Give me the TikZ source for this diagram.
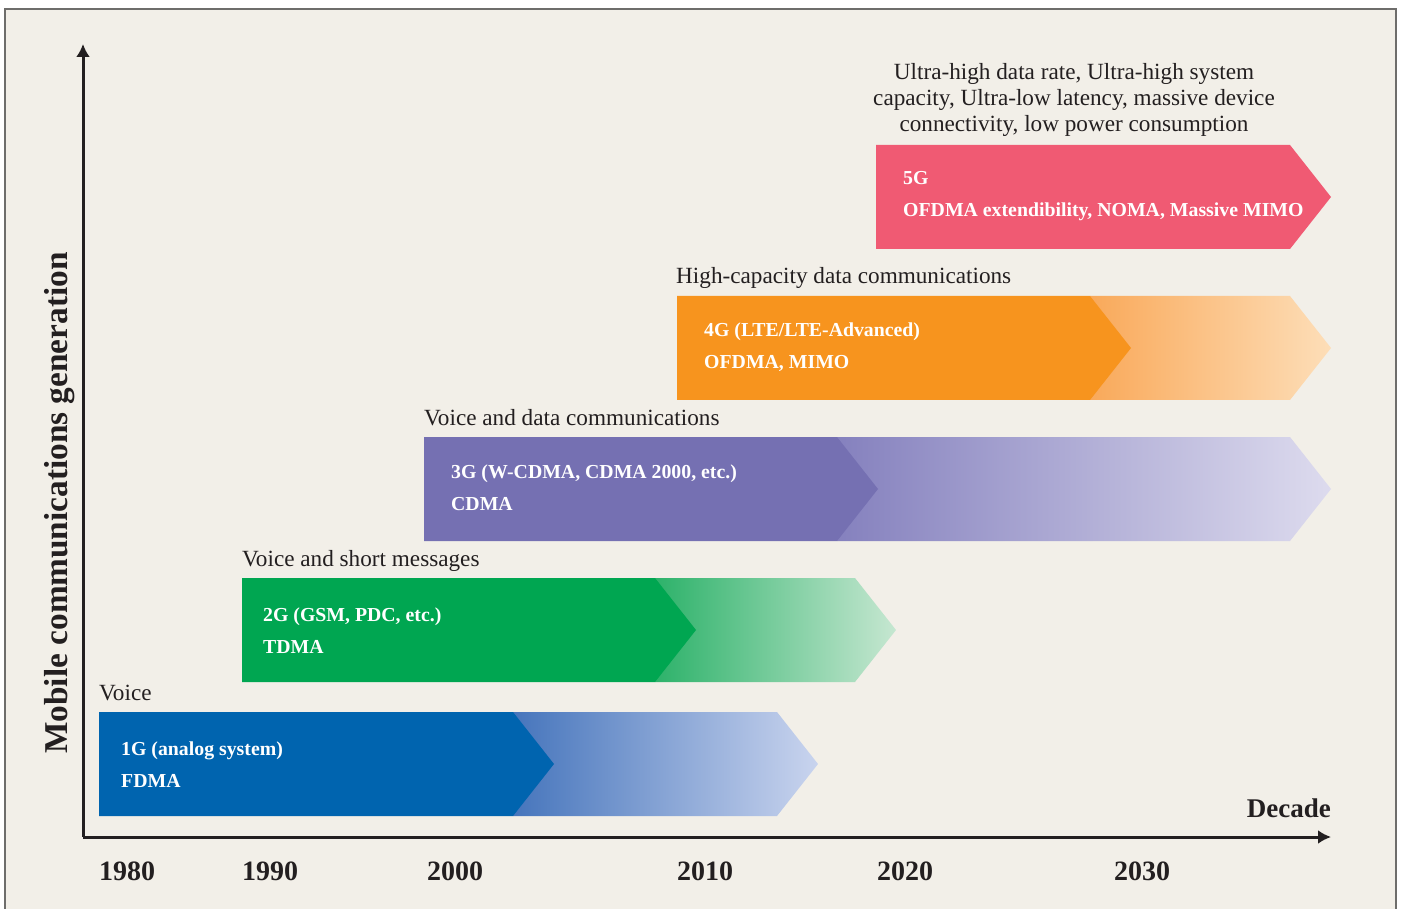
\documentclass[tikz,border=0pt]{standalone}
\usepackage{fontspec}
\setmainfont{Liberation Serif}
\usepackage{tikz}
\usetikzlibrary{arrows.meta}

\definecolor{paper}{HTML}{F2EFE8}
\definecolor{framegray}{HTML}{6E6D6B}
\definecolor{ink}{HTML}{231F20}
\definecolor{oneg}{HTML}{0064AF}
\definecolor{onegA}{HTML}{4675BC}
\definecolor{onegB}{HTML}{C9D4EE}
\definecolor{twog}{HTML}{00A651}
\definecolor{twogA}{HTML}{2DB26A}
\definecolor{twogB}{HTML}{C6E7D1}
\definecolor{threeg}{HTML}{7570B2}
\definecolor{threegA}{HTML}{8581BE}
\definecolor{threegB}{HTML}{DDDBEE}
\definecolor{fourg}{HTML}{F7941E}
\definecolor{fourgA}{HTML}{F9A95A}
\definecolor{fourgB}{HTML}{FDDEB8}
\definecolor{fiveg}{HTML}{F05A73}

\tikzset{
  bartext/.style={text=white, inner sep=0pt, anchor=base west,
    font=\fontsize{19.8}{22}\selectfont\bfseries},
  toplabel/.style={text=ink, inner sep=0pt, anchor=base west,
    font=\fontsize{23.2}{26}\selectfont},
  yearlabel/.style={text=ink, inner sep=0pt, anchor=base,
    font=\fontsize{28}{30}\selectfont\bfseries},
}

\begin{document}
\begin{tikzpicture}[x=1pt,y=-1pt]
\useasboundingbox (0,0) rectangle (1401,909);
\fill [white] (0,0) rectangle (1401,909);
\fill [paper] (5,9) rectangle (1396,909);
\draw [framegray,line width=2pt] (5,909)--(5,9)--(1396,9)--(1396,909);

% 1G
\shade [left color=onegA,right color=onegB] (513,712)--(777,712)--(818,764)--(777,816)--(513,816)--cycle;
\fill [oneg] (99,712)--(513,712)--(554,764)--(513,816)--(99,816)--cycle;
\node [toplabel] (voice) at (99,700) {Voice};
\node [bartext] (g1a) at (121,755) {1G (analog system)};
\node [bartext] (g1b) at (121,787) {FDMA};

% 2G
\shade [left color=twogA,right color=twogB] (655,578)--(855,578)--(896,630)--(855,682)--(655,682)--cycle;
\fill [twog] (242,578)--(655,578)--(696,630)--(655,682)--(242,682)--cycle;
\node [toplabel] (sms) at (242,566) {Voice and short messages};
\node [bartext] (g2a) at (263,621) {2G (GSM, PDC, etc.)};
\node [bartext] (g2b) at (263,653) {TDMA};

% 3G
\shade [left color=threegA,right color=threegB] (837,437)--(1290,437)--(1331,489)--(1290,541)--(837,541)--cycle;
\fill [threeg] (424,437)--(837,437)--(878,489)--(837,541)--(424,541)--cycle;
\node [toplabel] (data) at (424,425) {Voice and data communications};
\node [bartext] (g3a) at (451,478) {3G (W-CDMA, CDMA 2000, etc.)};
\node [bartext] (g3b) at (451,510) {CDMA};

% 4G
\shade [left color=fourgA,right color=fourgB] (1090,296)--(1290,296)--(1331,348)--(1290,400)--(1090,400)--cycle;
\fill [fourg] (677,296)--(1090,296)--(1131,348)--(1090,400)--(677,400)--cycle;
\node [toplabel] (highcap) at (676,284) {High-capacity data communications};
\node [bartext] (g4a) at (704,337) {4G (LTE/LTE-Advanced)};
\node [bartext] (g4b) at (704,369) {OFDMA, MIMO};

% 5G
\fill [fiveg] (876,145)--(1290,145)--(1331,197)--(1290,249)--(876,249)--cycle;
\node [text=ink,inner sep=0pt,anchor=north,align=center,font=\fontsize{23.2}{26}\selectfont] (ultra) at (1074,63)
  {Ultra-high data rate, Ultra-high system\\capacity, Ultra-low latency, massive device\\connectivity, low power consumption};
\node [bartext] (g5a) at (903,185) {5G};
\node [bartext] (g5b) at (903,217) {OFDMA extendibility, NOMA, Massive MIMO};

% axes
\coordinate (origin) at (83,837);
\coordinate (ytip) at (83,44);
\coordinate (xtip) at (1331,837);
\draw [-{Latex[length=13pt,width=14pt]},line width=3pt,ink] (origin)--(ytip);
\draw [-{Latex[length=13pt,width=14pt]},line width=3pt,ink] (origin)--(xtip);
\node [text=ink,inner sep=0pt,anchor=base,rotate=90,font=\fontsize{33.3}{36}\selectfont\bfseries] (gen) at (67,503) {Mobile communications generation};
\node [text=ink,inner sep=0pt,anchor=base east,font=\fontsize{27}{30}\selectfont\bfseries] (decade) at (1331,817) {Decade};

\node [yearlabel] (y1980) at (127,880) {1980};
\node [yearlabel] (y1990) at (270,880) {1990};
\node [yearlabel] (y2000) at (455,880) {2000};
\node [yearlabel] (y2010) at (705,880) {2010};
\node [yearlabel] (y2020) at (905,880) {2020};
\node [yearlabel] (y2030) at (1142,880) {2030};
\end{tikzpicture}
\end{document}
